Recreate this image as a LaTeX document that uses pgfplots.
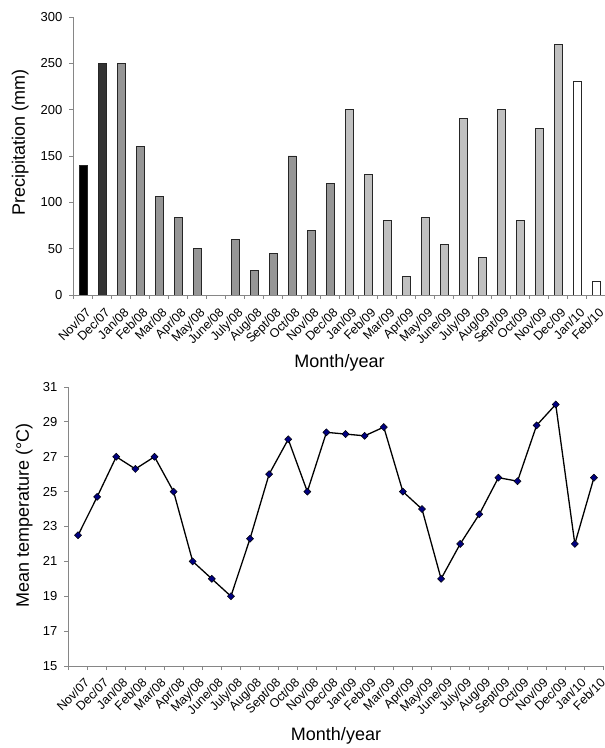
\documentclass[border=0pt]{standalone}
\usepackage{fontspec}
\setmainfont{Liberation Sans}
\usepackage{pgfplots}
\pgfplotsset{compat=1.18}
\definecolor{axgray}{HTML}{868686}
\definecolor{bardraw}{HTML}{262626}
\definecolor{gdec}{HTML}{333333}
\definecolor{gyear8}{HTML}{969696}
\definecolor{gyear9}{HTML}{C0C0C0}
\definecolor{navymark}{HTML}{000080}
\pgfplotsset{
  common/.style={
    scale only axis,
    anchor=south west,
    axis lines=left,
    axis line style={-, draw=axgray, line width=0.8pt},
    tick align=outside,
    xmin=-0.5, xmax=27.5,
    xtick={0,...,27},
    xticklabels={Nov/07,Dec/07,Jan/08,Feb/08,Mar/08,Apr/08,May/08,June/08,July/08,Aug/08,Sept/08,Oct/08,Nov/08,Dec/08,Jan/09,Feb/09,Mar/09,Apr/09,May/09,June/09,July/09,Aug/09,Sept/09,Oct/09,Nov/09,Dec/09,Jan/10,Feb/10},
    major x tick style={draw=none},
    minor xtick={-0.5,0.5,...,27.5},
    minor x tick style={draw=axgray, line width=0.8pt},
    minor tick length=4pt,
    major tick length=4pt,
    ytick style={draw=axgray, line width=0.8pt},
    /pgf/number format/assume math mode=true,
    xticklabel style={rotate=45, anchor=north east, inner sep=0pt, font=\fontsize{12.5}{12.5}\selectfont},
    yticklabel style={font=\fontsize{13}{13}\selectfont, inner sep=0pt, xshift=-7pt},
    label style={font=\fontsize{18}{18}\selectfont},
  }
}
\begin{document}
\begin{tikzpicture}
\useasboundingbox (0pt,0pt) rectangle (605pt,748pt);
% ---------- Precipitation ----------
\begin{axis}[common,
  at={(73.5pt,453pt)}, width=532pt, height=278pt,
  ymin=0, ymax=300, ytick={0,50,...,300},
  xticklabel style={xshift=-4pt, yshift=-7pt},
  xlabel={Month/year}, ylabel={Precipitation (mm)},
  xlabel style={at={(axis description cs:0.5,-0.245)}, anchor=center},
  ylabel style={at={(axis description cs:-0.1,0.55)}, anchor=center},
  every axis plot/.append style={ybar, bar width=8pt, bar shift=0pt, draw=bardraw, line width=0.9pt},
]
\addplot[fill=black] coordinates {(0,140)};
\addplot[fill=gdec] coordinates {(1,250)};
\addplot[fill=gyear8] coordinates {(2,250)(3,160)(4,106)(5,84)(6,50)(8,60)(9,26)(10,45)(11,150)(12,70)(13,120)};
\addplot[fill=gyear9] coordinates {(14,200)(15,130)(16,80)(17,20)(18,84)(19,55)(20,190)(21,40)(22,200)(23,80)(24,180)(25,270)};
\addplot[fill=white] coordinates {(26,230)(27,15)};
\end{axis}
% ---------- Temperature ----------
\begin{axis}[common,
  at={(68.5pt,82pt)}, width=535pt, height=279pt,
  ymin=15, ymax=31, ytick={15,17,...,31},
  xticklabel style={xshift=-1pt, yshift=-9pt},
  xlabel={Month/year}, ylabel={Mean temperature (°C)},
  xlabel style={at={(axis description cs:0.5,-0.25)}, anchor=center},
  ylabel style={at={(axis description cs:-0.083,0.54)}, anchor=center},
]
\addplot[black, line width=1.3pt, mark=square*, mark size=2.5pt, mark options={rotate=45, fill=navymark, draw=black, line width=0.5pt}] coordinates {
(0,22.5)(1,24.7)(2,27)(3,26.3)(4,27)(5,25)(6,21)(7,20)(8,19)(9,22.3)(10,26)(11,28)(12,25)(13,28.4)
(14,28.3)(15,28.2)(16,28.7)(17,25)(18,24)(19,20)(20,22)(21,23.7)(22,25.8)(23,25.6)(24,28.8)(25,30)(26,22)(27,25.8)};
\end{axis}
\end{tikzpicture}
\end{document}
